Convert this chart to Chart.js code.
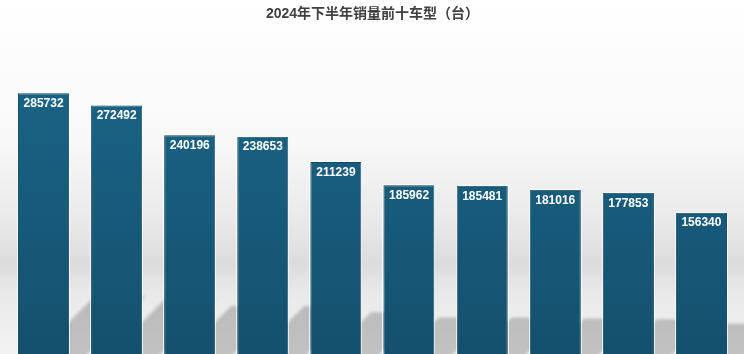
<!DOCTYPE html>
<html>
<head>
<meta charset="utf-8">
<script src="https://cdn.jsdelivr.net/npm/chart.js@4"></script>
<style>
    html, body { margin: 0; padding: 0; overflow: hidden; background: #fff; }
    #wrap { width: 744px; height: 357px; position: relative; }
</style>
</head>
<body>
<div id="wrap"><canvas id="myChart"></canvas></div>
<script>
// top ten models, second half of 2024 (units)
const models = ["1", "2", "3", "4", "5", "6", "7", "8", "9", "10"];
const sales = [285732, 272492, 240196, 238653, 211239, 185962, 185481, 181016, 177853, 156340];
const titleText = "2024年下半年销量前十车型（台）";

// grey backdrop with the darker band low down
const backdrop = {
    id: "backdrop",
    beforeDraw(chart) {
        const ctx = chart.ctx;
        const g = ctx.createLinearGradient(0, 0, 0, chart.height);
        g.addColorStop(0, "#ffffff");
        g.addColorStop(0.4, "#f8f8f8");
        g.addColorStop(0.62, "#e9e9e9");
        g.addColorStop(0.74, "#dcdcdc");
        g.addColorStop(0.82, "#e9e9e9");
        g.addColorStop(1, "#f3f3f3");
        ctx.save();
        ctx.fillStyle = g;
        ctx.fillRect(0, 0, chart.width, chart.height);
        ctx.restore();
    }
};

// slanted shadows behind each bar
const barShadows = {
    id: "barShadows",
    beforeDatasetsDraw(chart) {
        const ctx = chart.ctx;
        const meta = chart.getDatasetMeta(0);
        ctx.save();
        ctx.filter = "blur(1.5px)";
        ctx.fillStyle = "rgba(0,0,0,0.2)";
        meta.data.forEach(bar => {
            const w = bar.width;
            const h = (bar.base - bar.y) * 0.23;
            const x0 = bar.x - w / 2 + 16;
            ctx.beginPath();
            ctx.moveTo(x0, bar.base);
            ctx.lineTo(x0 + w, bar.base);
            ctx.lineTo(x0 + w + h, bar.base - h);
            ctx.lineTo(x0 + h, bar.base - h);
            ctx.closePath();
            ctx.fill();
        });
        ctx.restore();
    }
};

// light rim round the bars and white value labels inside their tops
const valueLabels = {
    id: "valueLabels",
    afterDatasetsDraw(chart) {
        const ctx = chart.ctx;
        const meta = chart.getDatasetMeta(0);
        ctx.save();
        ctx.strokeStyle = "rgba(255,255,255,0.75)";
        ctx.lineWidth = 1;
        meta.data.forEach(bar => {
            const l = bar.x - bar.width / 2;
            ctx.strokeRect(Math.round(l) - 0.5, Math.round(bar.y) - 0.5, Math.round(bar.width) + 1, bar.base - bar.y + 2);
        });
        ctx.font = "bold 12px 'Liberation Sans', Arial, sans-serif";
        ctx.fillStyle = "#ffffff";
        ctx.textAlign = "center";
        ctx.textBaseline = "middle";
        meta.data.forEach((bar, i) => {
            ctx.fillText(String(sales[i]), bar.x, bar.y + 10.5);
        });
        ctx.restore();
    }
};

function barFill(context) {
    const area = context.chart.chartArea;
    if (!area) return "#175a7a";
    const g = context.chart.ctx.createLinearGradient(0, area.top, 0, area.bottom);
    g.addColorStop(0, "#1a6385");
    g.addColorStop(1, "#14506d");
    return g;
}

new Chart(document.getElementById("myChart"), {
    type: "bar",
    data: {
        labels: models,
        datasets: [{
            data: sales,
            backgroundColor: barFill,
            borderColor: "#124a64",
            borderWidth: 1,
            barPercentage: 0.7,
            categoryPercentage: 1.0
        }]
    },
    options: {
        responsive: true,
        maintainAspectRatio: false,
        animation: false,
        layout: { padding: { left: 7, right: 6, top: 0, bottom: 0 } },
        scales: {
            x: { display: false },
            y: { display: false, min: 0, max: 300000 }
        },
        plugins: {
            legend: { display: false },
            tooltip: { enabled: false },
            title: {
                display: true,
                text: titleText,
                color: "#404040",
                font: { size: 14, weight: "bold", family: "'Liberation Sans', 'Noto Sans CJK SC', sans-serif" },
                padding: { top: 6, bottom: 57.2 }
            }
        }
    },
    plugins: [backdrop, barShadows, valueLabels]
});
</script>
</body>
</html>
